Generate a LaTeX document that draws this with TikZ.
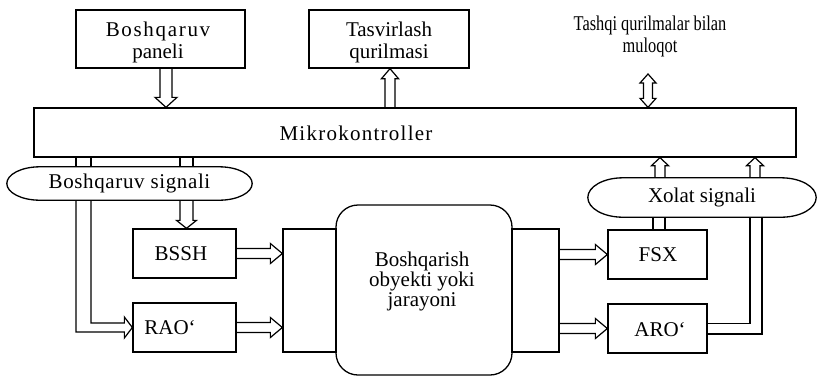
\documentclass[tikz,border=0pt]{standalone}
\usepackage{fontspec}
\setmainfont{Liberation Serif}
\newfontfamily\tnr{Liberation Serif}
\usetikzlibrary{calc}
\tikzset{
  box/.style={draw, line width=1.3pt, inner sep=0pt},
  txt/.style={font=\tnr\fontsize{21}{22}\selectfont, align=center, inner sep=0pt},
  arr/.style={line width=1.2pt, line join=miter},
  pipe/.style={line width=1.2pt},
}
\def\arrSW{5pt}\def\arrHW{10pt}\def\arrHL{10pt}
% block (hollow) arrow from #2 to #3
\newcommand\barrow[3][]{%
  \draw[arr,#1] let \p1=(#2),\p2=(#3),
    \n1={veclen(\x2-\x1,\y2-\y1)},
    \n2={(\x2-\x1)/\n1},\n3={(\y2-\y1)/\n1} in
    ({\x1-\arrSW*(\n3)},{\y1+\arrSW*(\n2)})
    -- ({\x2-\arrHL*(\n2)-\arrSW*(\n3)},{\y2-\arrHL*(\n3)+\arrSW*(\n2)})
    -- ({\x2-\arrHL*(\n2)-\arrHW*(\n3)},{\y2-\arrHL*(\n3)+\arrHW*(\n2)})
    -- (\p2)
    -- ({\x2-\arrHL*(\n2)+\arrHW*(\n3)},{\y2-\arrHL*(\n3)-\arrHW*(\n2)})
    -- ({\x2-\arrHL*(\n2)+\arrSW*(\n3)},{\y2-\arrHL*(\n3)-\arrSW*(\n2)})
    -- ({\x1+\arrSW*(\n3)},{\y1-\arrSW*(\n2)});}
% double-headed block arrow
\newcommand\dbarrow[3][]{%
  \draw[arr,#1] let \p1=(#2),\p2=(#3),
    \n1={veclen(\x2-\x1,\y2-\y1)},
    \n2={(\x2-\x1)/\n1},\n3={(\y2-\y1)/\n1} in
    (\p1)
    -- ({\x1+\arrHL*(\n2)-\arrHW*(\n3)},{\y1+\arrHL*(\n3)+\arrHW*(\n2)})
    -- ({\x1+\arrHL*(\n2)-\arrSW*(\n3)},{\y1+\arrHL*(\n3)+\arrSW*(\n2)})
    -- ({\x2-\arrHL*(\n2)-\arrSW*(\n3)},{\y2-\arrHL*(\n3)+\arrSW*(\n2)})
    -- ({\x2-\arrHL*(\n2)-\arrHW*(\n3)},{\y2-\arrHL*(\n3)+\arrHW*(\n2)})
    -- (\p2)
    -- ({\x2-\arrHL*(\n2)+\arrHW*(\n3)},{\y2-\arrHL*(\n3)-\arrHW*(\n2)})
    -- ({\x2-\arrHL*(\n2)+\arrSW*(\n3)},{\y2-\arrHL*(\n3)-\arrSW*(\n2)})
    -- ({\x1+\arrHL*(\n2)+\arrSW*(\n3)},{\y1+\arrHL*(\n3)-\arrSW*(\n2)})
    -- ({\x1+\arrHL*(\n2)+\arrHW*(\n3)},{\y1+\arrHL*(\n3)-\arrHW*(\n2)})
    -- cycle;}
% pill outline around a node, #2 = horizontal end radius
\newcommand\pill[2]{%
  \draw[box] let \p1=(#1.north west),\p2=(#1.south east),
    \n1={(\y1+\y2)/2},\n2={(\y1-\y2)/2} in
    ({\x1+#2},\y1) -- ({\x2-#2},\y1)
    .. controls ({\x2-#2+0.5523*#2},\y1) and (\x2,{(\n1+0.5523*\n2)*1pt}) .. (\x2,{\n1*1pt})
    .. controls (\x2,{(\n1-0.5523*\n2)*1pt}) and ({\x2-#2+0.5523*#2},\y2) .. ({\x2-#2},\y2)
    -- ({\x1+#2},\y2)
    .. controls ({\x1+#2-0.5523*#2},\y2) and (\x1,{(\n1-0.5523*\n2)*1pt}) .. (\x1,{\n1*1pt})
    .. controls (\x1,{(\n1+0.5523*\n2)*1pt}) and ({\x1+#2-0.5523*#2},\y1) .. ({\x1+#2},\y1)
    -- cycle;}
\begin{document}
\begin{tikzpicture}[x=1pt,y=-1pt]
\useasboundingbox (0,0) rectangle (818,376);
% top row
\node[box, minimum width=169pt, minimum height=58pt] (panel) at (160.5,39) {};
\node[txt] (panelt) at (158,42) {\addfontfeature{LetterSpace=8}Boshqaruv\\paneli};
\node[box, minimum width=160pt, minimum height=58pt] (tasv) at (389,39) {};
\node[txt] (tasvt) at (389,42) {Tasvirlash\\qurilmasi};
\node[txt] (tashqi) at (650,36) {\scalebox{0.78}[1]{Tashqi qurilmalar bilan}\\\scalebox{0.78}[1]{muloqot}};
\coordinate (tq) at (648,74);
% microcontroller bar
\node[box, minimum width=762pt, minimum height=49pt] (bar) at (415,132.5) {};
\node[txt] (mk) at (356,133) {\addfontfeature{LetterSpace=6}Mikrokontroller};
% signal pills
\node[txt, minimum width=245pt, minimum height=33pt] (sig1) at (129.5,183.5) {\addfontfeature{LetterSpace=3}Boshqaruv signali};
\pill{sig1}{33pt}
\node[txt, minimum width=228pt, minimum height=39pt] (xol) at (702,197.5) {Xolat signali};
\pill{xol}{35pt}
% blocks
\node[box, minimum width=103pt, minimum height=49pt] (bssh) at (184.5,253.5) {};
\node[txt] (bssht) at (181,254) {BSSH};
\node[box, minimum width=103pt, minimum height=49pt] (rao) at (184.5,327.5) {};
\node[txt] (raot) at (170,328) {RAO‘};
\node[box, minimum width=53pt, minimum height=123pt] (lb) at (309.5,290.5) {};
\node[box, minimum width=47pt, minimum height=123pt] (rb) at (535.5,290.5) {};
\node[box, rounded corners=22pt, minimum width=176pt, minimum height=170pt] (obj) at (424,290) {};
\node[txt, font=\tnr\fontsize{21}{20}\selectfont] (objt) at (422,281) {Boshqarish\\obyekti yoki\\jarayoni};
\node[box, minimum width=99pt, minimum height=49pt] (fsx) at (657.5,254.5) {};
\node[txt] (fsxt) at (658,255) {FSX};
\node[box, minimum width=99pt, minimum height=49pt] (aro) at (657.5,328.5) {};
\node[txt] (arot) at (660,330) {ARO‘};
% arrows top
{\def\arrSW{6pt}\def\arrHW{11pt}\def\arrHL{10pt}
 \barrow{166,0 |- panel.south}{166,0 |- bar.north}}
{\def\arrSW{5pt}\def\arrHW{8.5pt}\def\arrHL{10pt}
 \barrow{390,0 |- bar.north}{390,0 |- tasv.south}}
{\def\arrSW{4.5pt}\def\arrHW{8pt}\def\arrHL{9pt}
 \dbarrow{648,0 |- bar.north}{tq}}
% pipes bar -> Boshqaruv signali
\draw[pipe] (76,0 |- bar.south) -- (76,0 |- sig1.north);
\draw[pipe] (91,0 |- bar.south) -- (91,0 |- sig1.north);
\draw[pipe] (180,0 |- bar.south) -- (180,0 |- sig1.north);
\draw[pipe] (193,0 |- bar.south) -- (193,0 |- sig1.north);
% Boshqaruv signali -> BSSH
{\def\arrSW{6.5pt}\def\arrHW{10pt}\def\arrHL{8pt}
 \barrow{186.5,0 |- sig1.south}{186.5,0 |- bssh.north}}
% Boshqaruv signali -> RAO'
\draw[arr] (91,0 |- sig1.south) |- ($(rao.west)+(-8,-4.5)$) -- ($(rao.west)+(-8,-10.5)$)
  -- (rao.west) -- ($(rao.west)+(-8,10.5)$) -- ($(rao.west)+(-8,4.5)$) -| (76,0 |- sig1.south);
% horizontal arrows
{\def\arrSW{5pt}\def\arrHW{10pt}\def\arrHL{12pt}
 \barrow{bssh.east}{bssh.east -| lb.west}
 \barrow{rao.east}{rao.east -| lb.west}
 \barrow{fsx.west -| rb.east}{fsx.west}
 \barrow{aro.west -| rb.east}{aro.west}}
% FSX -> Xolat signali
\draw[pipe] (653,0 |- fsx.north) -- (653,0 |- xol.south);
\draw[pipe] (665,0 |- fsx.north) -- (665,0 |- xol.south);
% ARO' -> Xolat signali
\draw[pipe] ($(aro.east)+(0,-5)$) -| (750,0 |- xol.south);
\draw[pipe] ($(aro.east)+(0,5.5)$) -| (762,0 |- xol.south);
% Xolat signali -> bar
{\def\arrSW{5pt}\def\arrHW{8.5pt}\def\arrHL{8pt}
 \barrow{660,0 |- xol.north}{660,0 |- bar.south}
 \barrow{755,0 |- xol.north}{755,0 |- bar.south}}
\end{tikzpicture}
\end{document}
